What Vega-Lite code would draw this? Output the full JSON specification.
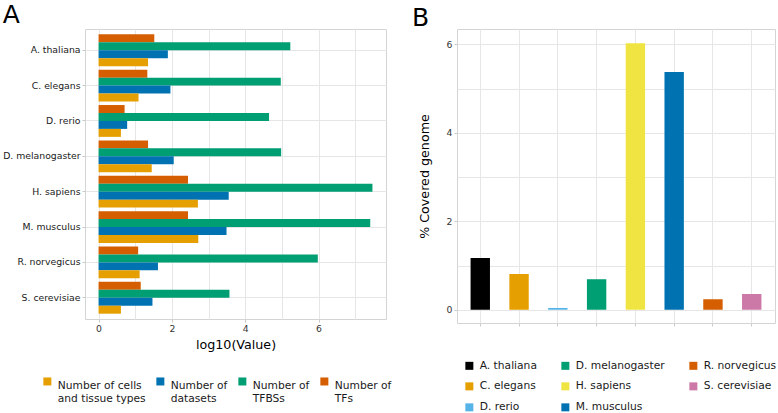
{
  "$schema": "https://vega.github.io/schema/vega-lite/v6.json",
  "padding": {"left": 2, "top": 2, "right": 0, "bottom": 0},
  "background": "white",
  "spacing": 18,
  "config": {
    "font": "DejaVu Sans",
    "view": {"stroke": "#D4D4D4", "strokeWidth": 1},
    "axis": {
      "labelFont": "DejaVu Sans",
      "titleFont": "DejaVu Sans",
      "labelFontSize": 9.3,
      "labelColor": "#333333",
      "titleFontSize": 12.7,
      "titleFontWeight": "normal",
      "titleColor": "#000000",
      "tickSize": 3,
      "tickColor": "#C8C8C8",
      "gridColor": "#E6E6E6",
      "domain": false,
      "labelPadding": 2
    },
    "legend": {
      "labelFont": "DejaVu Sans",
      "labelFontSize": 10.7,
      "labelColor": "#1a1a1a",
      "symbolType": "square",
      "symbolSize": 64,
      "symbolStrokeWidth": 0,
      "labelOffset": 5,
      "padding": 0,
      "labelLimit": 300
    },
    "title": {"fontSize": 25, "fontWeight": "normal", "anchor": "start", "color": "#000000"}
  },
  "hconcat": [
    {
      "title": {"text": "A", "frame": "bounds", "offset": 1, "dx": 0},
      "width": 301,
      "height": 290,
      "data": {
        "values": [
          {"species": "A. thaliana", "metric": "Number of TFs", "value": 1.52},
          {"species": "A. thaliana", "metric": "Number of TFBSs", "value": 5.23},
          {"species": "A. thaliana", "metric": "Number of datasets", "value": 1.89},
          {"species": "A. thaliana", "metric": "Number of cells and tissue types", "value": 1.35},
          {"species": "C. elegans", "metric": "Number of TFs", "value": 1.33},
          {"species": "C. elegans", "metric": "Number of TFBSs", "value": 4.97},
          {"species": "C. elegans", "metric": "Number of datasets", "value": 1.96},
          {"species": "C. elegans", "metric": "Number of cells and tissue types", "value": 1.09},
          {"species": "D. rerio", "metric": "Number of TFs", "value": 0.71},
          {"species": "D. rerio", "metric": "Number of TFBSs", "value": 4.65},
          {"species": "D. rerio", "metric": "Number of datasets", "value": 0.78},
          {"species": "D. rerio", "metric": "Number of cells and tissue types", "value": 0.61},
          {"species": "D. melanogaster", "metric": "Number of TFs", "value": 1.35},
          {"species": "D. melanogaster", "metric": "Number of TFBSs", "value": 4.98},
          {"species": "D. melanogaster", "metric": "Number of datasets", "value": 2.05},
          {"species": "D. melanogaster", "metric": "Number of cells and tissue types", "value": 1.45},
          {"species": "H. sapiens", "metric": "Number of TFs", "value": 2.44},
          {"species": "H. sapiens", "metric": "Number of TFBSs", "value": 7.47},
          {"species": "H. sapiens", "metric": "Number of datasets", "value": 3.55},
          {"species": "H. sapiens", "metric": "Number of cells and tissue types", "value": 2.71},
          {"species": "M. musculus", "metric": "Number of TFs", "value": 2.44},
          {"species": "M. musculus", "metric": "Number of TFBSs", "value": 7.41},
          {"species": "M. musculus", "metric": "Number of datasets", "value": 3.49},
          {"species": "M. musculus", "metric": "Number of cells and tissue types", "value": 2.72},
          {"species": "R. norvegicus", "metric": "Number of TFs", "value": 1.08},
          {"species": "R. norvegicus", "metric": "Number of TFBSs", "value": 5.98},
          {"species": "R. norvegicus", "metric": "Number of datasets", "value": 1.62},
          {"species": "R. norvegicus", "metric": "Number of cells and tissue types", "value": 1.12},
          {"species": "S. cerevisiae", "metric": "Number of TFs", "value": 1.15},
          {"species": "S. cerevisiae", "metric": "Number of TFBSs", "value": 3.57},
          {"species": "S. cerevisiae", "metric": "Number of datasets", "value": 1.47},
          {"species": "S. cerevisiae", "metric": "Number of cells and tissue types", "value": 0.61}
        ]
      },
      "mark": {"type": "bar"},
      "encoding": {
        "y": {
          "field": "species",
          "type": "nominal",
          "sort": ["A. thaliana", "C. elegans", "D. rerio", "D. melanogaster", "H. sapiens", "M. musculus", "R. norvegicus", "S. cerevisiae"],
          "scale": {"paddingInner": 0.1, "paddingOuter": 0.15},
          "axis": {"title": null, "grid": true, "bandPosition": 0.5, "labelColor": "#1a1a1a"}
        },
        "yOffset": {
          "field": "metric",
          "type": "nominal",
          "sort": ["Number of TFs", "Number of TFBSs", "Number of datasets", "Number of cells and tissue types"],
          "scale": {"paddingInner": 0, "paddingOuter": 0}
        },
        "x": {
          "field": "value",
          "type": "quantitative",
          "scale": {"domain": [-0.37, 7.84], "nice": false, "zero": false},
          "axis": {
            "title": "log10(Value)",
            "values": [0, 1, 2, 3, 4, 5, 6, 7],
            "labelExpr": "datum.value % 2 == 0 ? datum.label : ''",
            "tickColor": {"condition": {"test": "datum.value % 2 == 0", "value": "#C8C8C8"}, "value": "transparent"},
            "grid": true,
            "titlePadding": 5
          }
        },
        "x2": {"datum": 0},
        "color": {
          "field": "metric",
          "type": "nominal",
          "scale": {
            "domain": ["Number of cells and tissue types", "Number of datasets", "Number of TFBSs", "Number of TFs"],
            "range": ["#E69F00", "#0072B2", "#009E73", "#D55E00"]
          },
          "legend": {
            "title": null,
            "orient": "none",
            "legendX": -43,
            "legendY": 347,
            "direction": "horizontal",
            "columns": 4,
            "columnPadding": 9,
            "labelBaseline": "top",
            "labelExpr": "datum.label == 'Number of cells and tissue types' ? ['Number of cells', 'and tissue types'] : datum.label == 'Number of datasets' ? ['Number of', 'datasets'] : datum.label == 'Number of TFBSs' ? ['Number of', 'TFBSs'] : ['Number of', 'TFs']"
          }
        }
      }
    },
    {
      "title": {"text": "B", "frame": "bounds", "offset": -2, "dx": -6},
      "width": 318,
      "height": 294,
      "data": {
        "values": [
          {"species": "A. thaliana", "pct": 1.17},
          {"species": "C. elegans", "pct": 0.81},
          {"species": "D. rerio", "pct": 0.04},
          {"species": "D. melanogaster", "pct": 0.69},
          {"species": "H. sapiens", "pct": 6.03},
          {"species": "M. musculus", "pct": 5.38},
          {"species": "R. norvegicus", "pct": 0.24},
          {"species": "S. cerevisiae", "pct": 0.355}
        ]
      },
      "mark": {"type": "bar"},
      "encoding": {
        "x": {
          "field": "species",
          "type": "nominal",
          "sort": ["A. thaliana", "C. elegans", "D. rerio", "D. melanogaster", "H. sapiens", "M. musculus", "R. norvegicus", "S. cerevisiae"],
          "scale": {"paddingInner": 0.5, "paddingOuter": 0.35},
          "axis": {"title": null, "labels": false, "grid": true, "bandPosition": 0.5}
        },
        "y": {
          "field": "pct",
          "type": "quantitative",
          "scale": {"domain": [-0.3, 6.35], "nice": false, "zero": false},
          "axis": {
            "title": "% Covered genome",
            "values": [0, 1, 2, 3, 4, 5, 6],
            "labelExpr": "datum.value % 2 == 0 ? datum.label : ''",
            "tickColor": {"condition": {"test": "datum.value % 2 == 0", "value": "#C8C8C8"}, "value": "transparent"},
            "grid": true,
            "titlePadding": 15
          }
        },
        "y2": {"datum": 0},
        "color": {
          "field": "species",
          "type": "nominal",
          "scale": {
            "domain": ["A. thaliana", "D. melanogaster", "R. norvegicus", "C. elegans", "H. sapiens", "S. cerevisiae", "D. rerio", "M. musculus"],
            "range": ["#000000", "#009E73", "#D55E00", "#E69F00", "#F0E442", "#CC79A7", "#56B4E9", "#0072B2"]
          },
          "legend": {
            "title": null,
            "orient": "none",
            "legendX": 7,
            "legendY": 331,
            "direction": "horizontal",
            "columns": 3,
            "columnPadding": 23,
            "rowPadding": 9
          }
        }
      }
    }
  ],
  "resolve": {"scale": {"color": "independent"}, "legend": {"color": "independent"}}
}
